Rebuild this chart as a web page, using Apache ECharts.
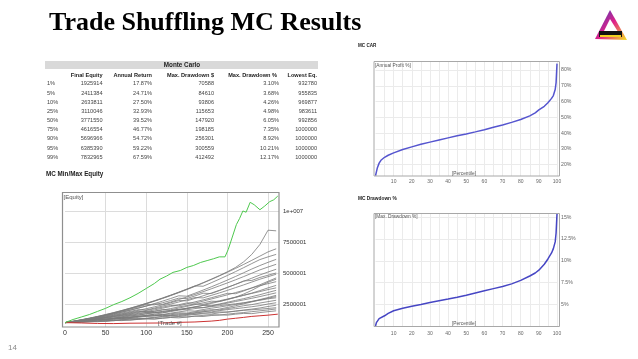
<!DOCTYPE html>
<html><head><meta charset="utf-8">
<script src="https://cdn.jsdelivr.net/npm/echarts@6/dist/echarts.min.js"></script>
<style>html,body{margin:0;padding:0;background:#fff}#c{width:638px;height:359px}</style>
</head><body><div id="c"></div>
<script>
// ---------------- DATA ----------------
const slideTitle = 'Trade Shuffling MC Results';
const tableTitle = 'Monte Carlo';
const tableHeaders = ['Final Equity', 'Annual Return', 'Max. Drawdown $', 'Max. Drawdown %', 'Lowest Eq.'];
const tableRowLabels = ['1%', '5%', '10%', '25%', '50%', '75%', '90%', '95%', '99%'];
const colFinalEquity = ['1925914', '2411384', '2633811', '3110046', '3771550', '4616554', '5696966', '6385390', '7832965'];
const colAnnualReturn = ['17.87%', '24.71%', '27.50%', '32.93%', '39.52%', '46.77%', '54.72%', '59.22%', '67.59%'];
const colMaxDDDollar = ['70588', '84610', '93806', '115653', '147920', '198185', '256301', '300559', '412492'];
const colMaxDDPct = ['3.10%', '3.68%', '4.26%', '4.98%', '6.05%', '7.35%', '8.92%', '10.21%', '12.17%'];
const colLowestEq = ['932780', '955835', '969877', '983611', '992856', '1000000', '1000000', '1000000', '1000000'];

// Equity chart (values in millions), sampled every 10 trades
const eqTrades = [0, 10, 20, 30, 40, 50, 60, 70, 80, 90, 100, 110, 120, 130, 140, 150, 160, 170, 180, 190, 200, 210, 220, 230, 240, 250, 260];
const grayPaths = [
  [1, 1.03, 1.02, 1.08, 1.12, 1.10, 1.16, 1.21, 1.19, 1.26, 1.30, 1.28, 1.35, 1.41, 1.38, 1.45, 1.52, 1.49, 1.57, 1.62, 1.60, 1.68, 1.74, 1.72, 1.81, 1.88, 1.95],
  [1, 1.06, 1.12, 1.17, 1.25, 1.30, 1.36, 1.40, 1.47, 1.52, 1.50, 1.56, 1.61, 1.58, 1.65, 1.70, 1.68, 1.76, 1.81, 1.86, 1.84, 1.92, 1.99, 2.03, 2.08, 2.14, 2.20],
  [1, 1.02, 1.07, 1.05, 1.11, 1.17, 1.15, 1.22, 1.28, 1.33, 1.31, 1.40, 1.46, 1.52, 1.50, 1.58, 1.66, 1.71, 1.69, 1.79, 1.86, 1.93, 2.01, 2.09, 2.18, 2.30, 2.40],
  [1, 1.05, 1.10, 1.16, 1.14, 1.22, 1.29, 1.35, 1.33, 1.42, 1.50, 1.57, 1.55, 1.63, 1.72, 1.70, 1.80, 1.88, 1.86, 1.96, 2.05, 2.12, 2.20, 2.28, 2.37, 2.50, 2.60],
  [1, 1.04, 1.09, 1.14, 1.21, 1.27, 1.25, 1.33, 1.41, 1.48, 1.56, 1.54, 1.63, 1.71, 1.79, 1.77, 1.87, 1.96, 2.04, 2.02, 2.13, 2.24, 2.36, 2.45, 2.58, 2.69, 2.80],
  [1, 1.08, 1.15, 1.24, 1.33, 1.40, 1.49, 1.57, 1.65, 1.74, 1.82, 1.80, 1.90, 1.98, 2.05, 2.03, 2.13, 2.20, 2.29, 2.36, 2.44, 2.52, 2.60, 2.71, 2.80, 2.92, 3.00],
  [1, 1.03, 1.09, 1.13, 1.20, 1.26, 1.34, 1.32, 1.41, 1.50, 1.58, 1.67, 1.65, 1.76, 1.86, 1.95, 1.93, 2.05, 2.16, 2.25, 2.36, 2.46, 2.58, 2.70, 2.86, 3.02, 3.20],
  [1, 1.06, 1.13, 1.19, 1.28, 1.36, 1.44, 1.52, 1.61, 1.59, 1.70, 1.79, 1.89, 1.97, 2.06, 2.15, 2.24, 2.21, 2.34, 2.46, 2.57, 2.70, 2.83, 2.96, 3.10, 3.25, 3.40],
  [1, 1.05, 1.11, 1.18, 1.26, 1.24, 1.33, 1.43, 1.52, 1.62, 1.72, 1.82, 1.80, 1.93, 2.05, 2.16, 2.28, 2.39, 2.36, 2.50, 2.64, 2.79, 2.93, 3.09, 3.25, 3.43, 3.60],
  [1, 1.07, 1.15, 1.23, 1.31, 1.40, 1.50, 1.60, 1.70, 1.81, 1.91, 1.89, 2.01, 2.13, 2.26, 2.38, 2.50, 2.47, 2.61, 2.76, 2.90, 3.05, 3.20, 3.35, 3.50, 3.66, 3.80],
  [1, 1.04, 1.12, 1.20, 1.29, 1.38, 1.36, 1.47, 1.58, 1.69, 1.81, 1.93, 2.05, 2.03, 2.17, 2.31, 2.45, 2.59, 2.73, 2.70, 2.86, 3.03, 3.20, 3.38, 3.58, 3.80, 4.00],
  [1, 1.08, 1.17, 1.26, 1.36, 1.46, 1.57, 1.68, 1.79, 1.91, 1.89, 2.02, 2.16, 2.30, 2.44, 2.59, 2.57, 2.73, 2.90, 3.07, 3.24, 3.42, 3.60, 3.79, 3.98, 4.14, 4.30],
  [1, 1.06, 1.14, 1.23, 1.32, 1.42, 1.52, 1.63, 1.74, 1.86, 1.98, 2.11, 2.24, 2.38, 2.35, 2.51, 2.67, 2.83, 3.00, 3.18, 3.36, 3.33, 3.55, 3.80, 4.05, 4.33, 4.60],
  [1, 1.09, 1.19, 1.29, 1.40, 1.52, 1.64, 1.77, 1.90, 2.04, 2.02, 2.17, 2.33, 2.49, 2.66, 2.84, 3.02, 2.99, 3.19, 3.39, 3.60, 3.82, 4.04, 4.27, 4.50, 4.70, 4.90],
  [1, 1.07, 1.16, 1.26, 1.36, 1.47, 1.59, 1.71, 1.84, 1.98, 2.12, 2.27, 2.43, 2.60, 2.78, 2.75, 2.95, 3.16, 3.38, 3.60, 3.84, 4.08, 4.33, 4.58, 4.84, 5.08, 5.30],
  [1, 1.10, 1.21, 1.33, 1.45, 1.58, 1.72, 1.86, 2.01, 2.17, 2.33, 2.50, 2.47, 2.66, 2.86, 3.06, 3.27, 3.49, 3.72, 3.96, 4.20, 4.45, 4.71, 4.98, 5.25, 5.48, 5.70],
  [1, 1.08, 1.18, 1.29, 1.41, 1.54, 1.68, 1.83, 1.99, 2.16, 2.34, 2.53, 2.73, 2.94, 3.16, 3.13, 3.37, 3.62, 3.88, 4.15, 4.43, 4.72, 5.02, 5.32, 5.60, 5.86, 6.10],
  [1, 1.11, 1.23, 1.36, 1.50, 1.65, 1.81, 1.98, 2.16, 2.35, 2.55, 2.76, 2.98, 3.21, 3.45, 3.70, 3.96, 3.93, 4.21, 4.50, 4.80, 5.11, 5.43, 5.76, 6.08, 6.30, 6.50],
  [1, 1.09, 1.20, 1.32, 1.46, 1.61, 1.77, 1.94, 2.12, 2.31, 2.51, 2.72, 2.94, 3.17, 3.41, 3.66, 3.92, 4.19, 4.47, 4.76, 5.06, 5.37, 5.69, 6.02, 6.36, 6.70, 6.95],
  [1, 1.10, 1.22, 1.35, 1.49, 1.64, 1.80, 1.97, 2.15, 2.34, 2.54, 2.75, 2.97, 3.20, 3.44, 3.69, 3.95, 4.22, 4.50, 4.79, 5.10, 5.45, 5.90, 6.50, 7.30, 8.45, 8.40],
  [1, 1.01, 1.05, 1.09, 1.07, 1.13, 1.18, 1.16, 1.22, 1.27, 1.32, 1.30, 1.36, 1.42, 1.47, 1.45, 1.52, 1.58, 1.63, 1.61, 1.68, 1.75, 1.81, 1.88, 1.95, 2.02, 2.10],
  [1, 1.03, 1.06, 1.10, 1.15, 1.13, 1.19, 1.25, 1.31, 1.29, 1.36, 1.43, 1.50, 1.58, 1.56, 1.65, 1.75, 1.86, 1.97, 2.09, 2.22, 2.36, 2.51, 2.67, 2.83, 2.97, 3.10],
  [1, 1.05, 1.10, 1.16, 1.22, 1.28, 1.35, 1.42, 1.40, 1.49, 1.58, 1.68, 1.78, 1.89, 2.00, 2.12, 2.25, 2.39, 2.54, 2.70, 2.87, 3.05, 3.30, 3.60, 3.95, 4.25, 4.50],
  [1, 1.10, 1.21, 1.33, 1.46, 1.60, 1.75, 1.91, 2.08, 2.26, 2.45, 2.43, 2.60, 2.78, 2.97, 2.94, 3.15, 3.37, 3.34, 3.58, 3.83, 4.09, 4.36, 4.40, 4.64, 4.82, 5.00]
];
const maxEqTrades = [0, 10, 20, 30, 40, 50, 60, 70, 80, 90, 100, 110, 117, 125, 133, 142, 150, 158, 167, 175, 183, 190, 197, 201, 206, 211, 215, 219, 223, 228, 233, 240, 246, 252, 257, 262];
const maxEqValues = [1.0, 1.25, 1.45, 1.65, 1.9, 2.15, 2.45, 2.7, 3.0, 3.35, 3.75, 4.15, 4.5, 4.75, 5.05, 5.2, 5.45, 5.6, 5.85, 6.0, 6.15, 6.3, 6.3, 6.9, 7.9, 8.9, 9.4, 10.0, 9.9, 10.7, 10.5, 10.1, 10.4, 10.75, 10.9, 11.2];
const minEqTrades = [0, 20, 40, 60, 80, 100, 120, 140, 160, 180, 190, 200, 210, 220, 230, 240, 250, 262];
const minEqValues = [1.0, 0.97, 0.93, 0.92, 0.95, 0.96, 0.97, 1.02, 1.05, 1.12, 1.18, 1.28, 1.35, 1.42, 1.5, 1.55, 1.6, 1.68];
const eqTickValues = [2.5, 5, 7.5, 10];
const eqTickLabels = ['2500001', '5000001', '7500001', '1e+007'];

// MC CAR (Annual Profit %) by percentile
const carPercentile = [0, 0.5, 1, 2, 3, 5, 7, 10, 15, 20, 25, 30, 35, 40, 45, 50, 55, 60, 65, 70, 75, 80, 85, 88, 90, 93, 95, 97, 98, 99, 99.5, 100];
const carValues = [13, 15.5, 17.9, 21, 22.8, 24.7, 26, 27.5, 29.6, 31.3, 32.9, 34.3, 35.7, 37.0, 38.3, 39.5, 40.8, 42.2, 43.7, 45.2, 46.8, 48.6, 50.9, 52.8, 54.7, 57, 59.2, 62.0, 63.8, 67.6, 72, 84];

// MC Drawdown % by percentile
const ddPercentile = [0, 0.5, 1, 2, 3, 5, 7, 10, 15, 20, 25, 30, 35, 40, 45, 50, 55, 60, 65, 70, 75, 80, 85, 88, 90, 93, 95, 97, 98, 99, 99.5, 100];
const ddValues = [2.5, 2.9, 3.1, 3.35, 3.5, 3.68, 3.95, 4.26, 4.55, 4.78, 4.98, 5.2, 5.4, 5.6, 5.82, 6.05, 6.3, 6.55, 6.8, 7.05, 7.35, 7.75, 8.25, 8.6, 8.92, 9.6, 10.21, 10.9, 11.4, 12.17, 13.2, 15.4];

// ---------------- CHART ----------------
const FONT = 'Liberation Sans';
const chart = echarts.init(document.getElementById('c'), null, {renderer: 'canvas'});

const zip = (xs, ys) => xs.map((x, i) => [x, ys[i]]);

const graphic = [];
// title
graphic.push({type: 'text', left: 49, top: 10, style: {text: slideTitle, font: 'bold 26px "Liberation Serif"', fill: '#000'}});
// logo
graphic.push({type: 'polygon', shape: {points: [[610, 10], [595, 39], [627, 40]]},
  style: {fill: new echarts.graphic.LinearGradient(0, 0, 1, 1, [{offset: 0, color: '#3040c0'}, {offset: 0.5, color: '#e0208a'}, {offset: 1, color: '#f5e020'}])}});
graphic.push({type: 'polygon', shape: {points: [[610, 19], [602, 35], [620, 35]]}, style: {fill: '#ffffff'}});
graphic.push({type: 'rect', shape: {x: 599, y: 31, width: 23, height: 6}, style: {fill: '#111'}});
graphic.push({type: 'rect', shape: {x: 600, y: 35, width: 21, height: 2}, style: {fill: '#f0d020'}});
// slide number
graphic.push({type: 'text', left: 8, top: 344, style: {text: '14', font: '8px "Liberation Sans"', fill: '#8a8a8a'}});

// table
graphic.push({type: 'rect', shape: {x: 45, y: 61, width: 273, height: 8}, style: {fill: '#d9d9d9'}});
graphic.push({type: 'text', x: 182, y: 65, style: {text: tableTitle, font: 'bold 6.3px "Liberation Sans"', fill: '#222', align: 'center', verticalAlign: 'middle'}});
const colRight = [102.5, 152, 214, 277, 317];
tableHeaders.forEach((h, i) => {
  graphic.push({type: 'text', x: colRight[i], y: 75, style: {text: h, font: 'bold 5.6px "Liberation Sans"', fill: '#222', align: 'right', verticalAlign: 'middle'}});
});
const cols = [colFinalEquity, colAnnualReturn, colMaxDDDollar, colMaxDDPct, colLowestEq];
tableRowLabels.forEach((r, j) => {
  const y = 83.8 + j * 9.17;
  graphic.push({type: 'text', x: 47, y: y, style: {text: r, font: '5.6px "Liberation Sans"', fill: '#444', align: 'left', verticalAlign: 'middle'}});
  cols.forEach((c, i) => {
    graphic.push({type: 'text', x: i === 3 ? 279 : colRight[i], y: y, style: {text: c[j], font: '5.6px "Liberation Sans"', fill: '#444', align: 'right', verticalAlign: 'middle'}});
  });
});

// section labels
graphic.push({type: 'text', x: 46, y: 174, style: {text: 'MC Min/Max Equity', font: 'bold 6.3px "Liberation Sans"', fill: '#222', verticalAlign: 'middle'}});
graphic.push({type: 'text', x: 358, y: 45.5, style: {text: 'MC CAR', font: 'bold 4.6px "Liberation Sans"', fill: '#222', verticalAlign: 'middle'}});
graphic.push({type: 'text', x: 358, y: 198.5, style: {text: 'MC Drawdown %', font: 'bold 4.8px "Liberation Sans"', fill: '#222', verticalAlign: 'middle'}});

// frames
graphic.push({type: 'rect', z: 100, shape: {x: 62.5, y: 192.5, width: 216.5, height: 134.5}, style: {fill: null, stroke: '#8f8f8f', lineWidth: 1.2}});
graphic.push({type: 'rect', z: 100, shape: {x: 374, y: 61.5, width: 185.5, height: 114.5}, style: {fill: null, stroke: '#a8a8a8', lineWidth: 1}});
graphic.push({type: 'rect', z: 100, shape: {x: 374, y: 213.5, width: 185.5, height: 113}, style: {fill: null, stroke: '#a8a8a8', lineWidth: 1}});
// inner labels
const innerLbl = (t, x, y, fs) => ({type: 'text', z: 101, x: x, y: y, style: {text: t, font: fs + 'px "Liberation Sans"', fill: '#555', verticalAlign: 'middle'}});
graphic.push(innerLbl('[Equity]', 63.5, 197, 6));
graphic.push(innerLbl('[Trade #]', 158, 323, 6));
graphic.push(innerLbl('[Annual Profit %]', 375, 65.5, 4.8));
graphic.push(innerLbl('[Percentile]', 452, 173.5, 4.8));
graphic.push(innerLbl('[Max. Drawdown %]', 375, 217, 4.8));
graphic.push(innerLbl('[Percentile]', 452, 324, 4.8));

const hid = {show: false};
const gridLine = c => ({show: true, showMinLine: false, showMaxLine: false, lineStyle: {color: c, width: 1}});

const option = {
  animation: false,
  backgroundColor: '#ffffff',
  grid: [
    {left: 65, top: 192, width: 214, height: 143},          // 0 equity data
    {left: 65, top: 192, width: 214, height: 135},          // 1 equity x labels / vertical grid
    {left: 375.5, top: 61.6, width: 181.5, height: 118.9},  // 2 CAR data
    {left: 375.5, top: 61.6, width: 181.5, height: 114.4},  // 3 CAR x labels / vertical grid
    {left: 375.5, top: 213.3, width: 181.5, height: 112.75} // 4 DD
  ],
  xAxis: [
    {gridIndex: 0, type: 'value', min: 0, max: 263.5, axisLine: hid, axisTick: hid, axisLabel: hid, splitLine: hid},
    {gridIndex: 1, type: 'value', min: 0, max: 263.5, interval: 50, axisLine: hid, axisTick: hid,
      axisLabel: {margin: 3, fontSize: 7, fontFamily: FONT, color: '#333', showMaxLabel: false},
      splitLine: gridLine('#dcdcdc')},
    {gridIndex: 2, type: 'value', min: 0, max: 100, axisLine: hid, axisTick: hid, axisLabel: hid, splitLine: hid},
    {gridIndex: 3, type: 'value', min: 0, max: 100, interval: 5, axisLine: hid, axisTick: hid,
      axisLabel: {margin: 3, fontSize: 5, fontFamily: FONT, color: '#666', formatter: v => (v > 0 && v % 10 === 0) ? String(v) : ''},
      splitLine: {show: true, showMinLine: false, showMaxLine: true, lineStyle: {color: '#ebebeb', width: 1}}},
    {gridIndex: 4, type: 'value', min: 0, max: 100, interval: 5, axisLine: hid, axisTick: hid,
      axisLabel: {margin: 5, fontSize: 5, fontFamily: FONT, color: '#666', formatter: v => (v > 0 && v % 10 === 0) ? String(v) : ''},
      splitLine: {show: true, showMinLine: false, showMaxLine: true, lineStyle: {color: '#ebebeb', width: 1}}}
  ],
  yAxis: [
    {gridIndex: 0, type: 'value', position: 'right', min: 0, max: 11.53, interval: 2.5, axisLine: hid, axisTick: hid,
      axisLabel: {margin: 4, fontSize: 6, fontFamily: FONT, color: '#333', showMaxLabel: false,
        formatter: v => { const k = eqTickValues.indexOf(v); return k >= 0 ? eqTickLabels[k] : ''; }},
      splitLine: gridLine('#dcdcdc')},
    {gridIndex: 1, type: 'value', min: 0, max: 1, show: false, splitLine: hid},
    {gridIndex: 2, type: 'value', position: 'right', min: 10, max: 85.3, interval: 10, axisLine: hid, axisTick: hid,
      axisLabel: {margin: 4, fontSize: 5.2, fontFamily: FONT, color: '#666', showMaxLabel: false,
        formatter: v => (v >= 20 && v <= 80) ? v + '%' : ''},
      splitLine: gridLine('#ebebeb')},
    {gridIndex: 3, type: 'value', min: 0, max: 1, show: false, splitLine: hid},
    {gridIndex: 4, type: 'value', position: 'right', min: 2.5, max: 15.46, interval: 2.5, axisLine: hid, axisTick: hid,
      axisLabel: {margin: 4, fontSize: 5.2, fontFamily: FONT, color: '#666', showMaxLabel: false,
        formatter: v => (v >= 5 && v <= 15) ? v + '%' : ''},
      splitLine: gridLine('#ebebeb')}
  ],
  series: [
    ...grayPaths.map(p => ({type: 'line', xAxisIndex: 0, yAxisIndex: 0, data: zip(eqTrades, p), showSymbol: false, silent: true,
      lineStyle: {color: '#7a7a7a', width: 0.8}})),
    {type: 'line', xAxisIndex: 0, yAxisIndex: 0, data: zip(minEqTrades, minEqValues), showSymbol: false, lineStyle: {color: '#cc3333', width: 1}},
    {type: 'line', xAxisIndex: 0, yAxisIndex: 0, data: zip(maxEqTrades, maxEqValues), showSymbol: false, lineStyle: {color: '#4fc94f', width: 1}},
    {type: 'line', xAxisIndex: 2, yAxisIndex: 2, data: zip(carPercentile, carValues), showSymbol: false, lineStyle: {color: '#5555cf', width: 1.5}},
    {type: 'line', xAxisIndex: 4, yAxisIndex: 4, data: zip(ddPercentile, ddValues), showSymbol: false, lineStyle: {color: '#4646c4', width: 1.5}}
  ],
  graphic: graphic
};
chart.setOption(option);
</script>
</body></html>
